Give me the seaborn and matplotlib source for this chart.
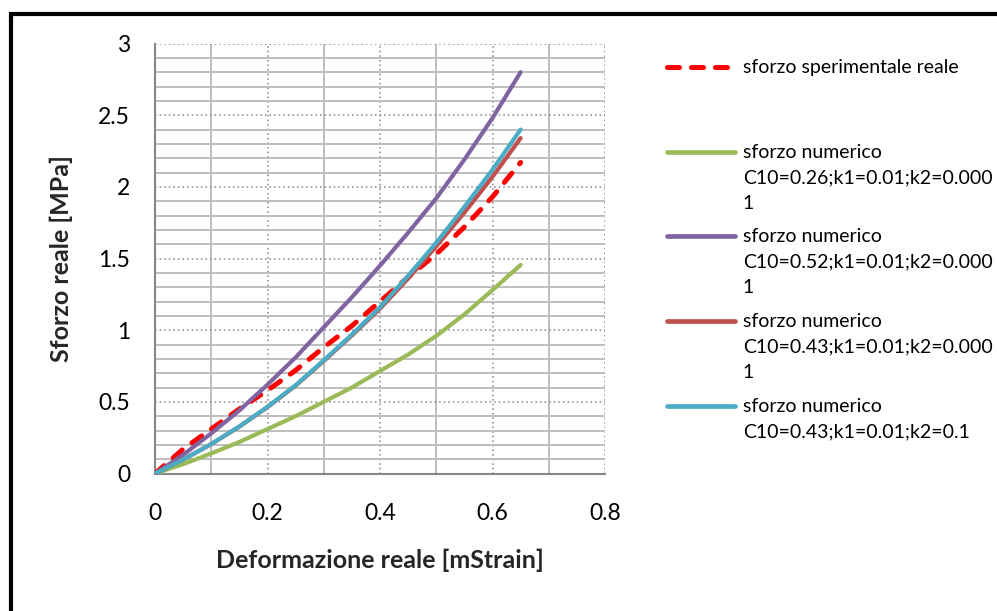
import matplotlib
matplotlib.use("Agg")
import matplotlib.pyplot as plt
from matplotlib.lines import Line2D
from matplotlib.patches import Rectangle
from matplotlib.ticker import MultipleLocator
import numpy as np
import pandas as pd
import seaborn as sns

# ---- data -----------------------------------------------------------------
strain = [0.00, 0.05, 0.10, 0.15, 0.20, 0.25, 0.30, 0.35, 0.40, 0.45, 0.50, 0.55, 0.60, 0.65]

stress_exp = [0.00, 0.17, 0.31, 0.45, 0.58, 0.72, 0.88, 1.03, 1.20, 1.37, 1.53, 1.72, 1.93, 2.17]
stress_c026 = [0.00, 0.065, 0.14, 0.22, 0.31, 0.40, 0.50, 0.60, 0.715, 0.83, 0.96, 1.11, 1.28, 1.455]
stress_c052 = [0.00, 0.13, 0.28, 0.44, 0.62, 0.81, 1.02, 1.23, 1.45, 1.68, 1.92, 2.19, 2.48, 2.80]
stress_c043 = [0.00, 0.097, 0.205, 0.327, 0.463, 0.613, 0.785, 0.963, 1.15, 1.36, 1.585, 1.82, 2.07, 2.34]
stress_c043_k01 = [0.00, 0.097, 0.206, 0.328, 0.465, 0.616, 0.79, 0.97, 1.16, 1.38, 1.61, 1.86, 2.12, 2.40]

series_names = [
    "sforzo sperimentale reale",
    "sforzo numerico\nC10=0.26;k1=0.01;k2=0.000\n1",
    "sforzo numerico\nC10=0.52;k1=0.01;k2=0.000\n1",
    "sforzo numerico\nC10=0.43;k1=0.01;k2=0.000\n1",
    "sforzo numerico\nC10=0.43;k1=0.01;k2=0.1",
]
series_values = [stress_exp, stress_c026, stress_c052, stress_c043, stress_c043_k01]
series_colors = ["#FF0000", "#9BBB59", "#8064A2", "#C0504D", "#4BACC6"]

x_ticks = [0, 0.2, 0.4, 0.6, 0.8]
x_tick_labels = ["0", "0.2", "0.4", "0.6", "0.8"]
y_ticks = [0, 0.5, 1, 1.5, 2, 2.5, 3]
y_tick_labels = ["0", "0.5", "1", "1.5", "2", "2.5", "3"]

# ---- style ----------------------------------------------------------------
sns.set_theme(style="white")
plt.rcParams["font.family"] = ["Lato", "DejaVu Sans"]

W, H = 997, 611
fig = plt.figure(figsize=(W / 100, H / 100), dpi=100)
fig.patch.set_facecolor("white")


def fx(px):
    return px / W


def fy(py):
    return 1 - py / H


ax = fig.add_axes([fx(155), fy(473.5), fx(605) - fx(155), fy(43.5) - fy(473.5)])
ax.set_facecolor("white")

LW = 3.0
for name, vals, col in zip(series_names, series_values, series_colors):
    df = pd.DataFrame({"strain": strain, "stress": vals})
    if name.startswith("sforzo sperimentale"):
        sns.lineplot(data=df, x="strain", y="stress", ax=ax, color=col, lw=3.6,
                     linestyle=(0, (2.4, 2.4)), dash_capstyle="round",
                     sort=False, zorder=3)
    else:
        sns.lineplot(data=df, x="strain", y="stress", ax=ax, color=col, lw=LW,
                     solid_capstyle="round", sort=False, zorder=3)

ax.set_xlim(0, 0.8)
ax.set_ylim(0, 3)
ax.set_xticks(x_ticks)
ax.set_xticklabels(x_tick_labels)
ax.set_yticks(y_ticks)
ax.set_yticklabels(y_tick_labels)
ax.xaxis.set_minor_locator(MultipleLocator(0.1))
ax.yaxis.set_minor_locator(MultipleLocator(0.1))

ax.grid(True, which="major", color="#868686", linestyle=(0, (1, 2)), linewidth=1.1, zorder=1)
ax.grid(True, which="minor", color="#BEBEBE", linestyle="-", linewidth=1.4, zorder=1)
ax.set_axisbelow(True)

for side in ("top", "right"):
    ax.spines[side].set_visible(False)
for side in ("left", "bottom"):
    ax.spines[side].set_color("#868686")
    ax.spines[side].set_linewidth(1.5)

ax.tick_params(axis="both", which="both", length=0, labelsize=16.5, colors="black")
ax.tick_params(axis="y", pad=18)
ax.tick_params(axis="x", pad=21)

ax.set_xlabel("Deformazione reale [mStrain]", fontsize=18, fontweight="bold")
ax.xaxis.set_label_coords(0.5, (473.5 - 568) / 430)
ax.xaxis.label.set_verticalalignment("baseline")
ax.set_ylabel("Sforzo reale [MPa]", fontsize=18, fontweight="bold")
ax.yaxis.set_label_coords((61.7 - 155) / 450, (473.5 - 259) / 430)
ax.yaxis.label.set_verticalalignment("center")

# ---- legend (handle aligned with first text line) ---------------------------
entry_y = [67, 151.7, 236, 321, 405.7]
line_gap = 25.8
for name, col, yy in zip(series_names, series_colors, entry_y):
    if name.startswith("sforzo sperimentale"):
        h = Line2D([fx(667), fx(727)], [fy(yy), fy(yy)], transform=fig.transFigure,
                   color=col, lw=3.6, linestyle=(0, (2.4, 2.4)), dash_capstyle="round")
    else:
        h = Line2D([fx(667), fx(735)], [fy(yy), fy(yy)], transform=fig.transFigure,
                   color=col, lw=3.4, solid_capstyle="round")
    fig.add_artist(h)
    for i, part in enumerate(name.split("\n")):
        fig.text(fx(742.7), fy(yy + 5.8 + i * line_gap), part, fontsize=14.0,
                 ha="left", va="baseline", color="black")

# ---- outer frame ------------------------------------------------------------
frame = Rectangle((fx(10.5), fy(H + 50)), 1.2, fy(14) - fy(H + 50),
                  transform=fig.transFigure, fill=False, edgecolor="black",
                  linewidth=3.0, clip_on=False)
fig.add_artist(frame)

fig.savefig("out.png", dpi=100, facecolor="white")
